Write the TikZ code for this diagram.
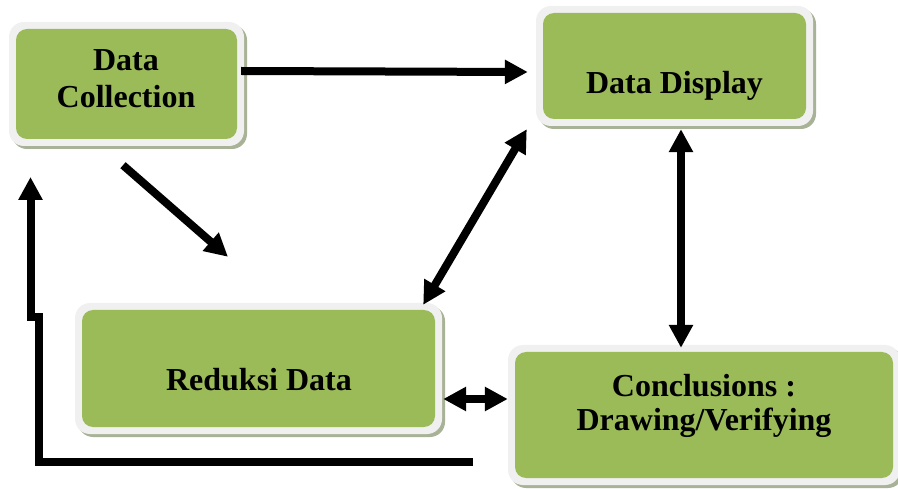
\documentclass[tikz,border=0pt]{standalone}
\usepackage{fontspec}
\setmainfont{Liberation Serif}
\usetikzlibrary{arrows.meta,calc,shadows}
\definecolor{boxgreen}{HTML}{9BBB59}
\definecolor{boxrim}{HTML}{F0F0F0}
\definecolor{boxshadow}{HTML}{A8B296}
\begin{document}
\begin{tikzpicture}[x=1pt,y=-1pt,
  rim/.style={fill=boxrim, draw=none, rounded corners=15pt, inner sep=0pt,
    drop shadow={shadow xshift=3pt, shadow yshift=-3pt, fill=boxshadow, opacity=1}},
  core/.style={fill=boxgreen, draw=none, rounded corners=11pt, inner sep=0pt},
  lbl/.style={font=\fontsize{32}{37}\selectfont\bfseries, align=center, inner sep=0pt},
  arr/.style={line width=8pt, -{Triangle[length=23pt,width=23pt]}},
  darr/.style={line width=8pt, {Triangle[length=23pt,width=23pt]}-{Triangle[length=23pt,width=23pt]}}]
\useasboundingbox (0,0) rectangle (898,489);

% Data Collection
\node[rim, minimum width=235pt, minimum height=124pt] (dco) at (126.5,84) {};
\node[core, minimum width=221pt, minimum height=110pt] (dc) at (126.5,84) {};
\node[lbl] (dct) at (126,79) {Data\\Collection};

% Data Display
\node[rim, minimum width=277pt, minimum height=120pt] (ddo) at (674.5,66) {};
\node[core, minimum width=263pt, minimum height=106pt] (dd) at (674.5,66) {};
\node[lbl, anchor=base] (ddt) at (674.5,94) {Data Display};

% Reduksi Data
\node[rim, minimum width=367pt, minimum height=131pt] (rdo) at (258.5,368.5) {};
\node[core, minimum width=353pt, minimum height=117pt] (rd) at (258.5,368.5) {};
\node[lbl, anchor=base] (rdt) at (259,391) {Reduksi Data};

% Conclusions
\node[rim, minimum width=392pt, minimum height=140pt] (cdo) at (704,415) {};
\node[core, minimum width=378pt, minimum height=126pt] (cd) at (704,415) {};
\node[lbl, font=\fontsize{32}{34}\selectfont\bfseries] (cdt) at (704,405.5) {Conclusions :\\Drawing/Verifying};

% connectors
\draw[arr] ($(dco.east)+(-3,-13)$) -- ($(ddo.west)+(-8,6)$);
\draw[arr] ($(dco.south)+(-3.5,19)$) -- ($(rdo.north)+(-30.5,-46)$);
\draw[darr] ($(rdo.north east)+(-19,2)$) -- ($(ddo.south west)+(-9,3)$);
\draw[darr] ($(ddo.south)+(6.5,3)$) -- ($(cdo.north)+(-23,3)$);
\draw[darr] ($(rdo.east)+(1,30.5)$) -- ($(cdo.west)+(0,-16)$);

\coordinate (fbs) at (473,462);
\coordinate (fbe) at (30.5,177);
\draw[arr] (fbs) -- ++(-434,0) -- ++(0,-145) -- ++(-8.5,0) -- (fbe);
\end{tikzpicture}
\end{document}
